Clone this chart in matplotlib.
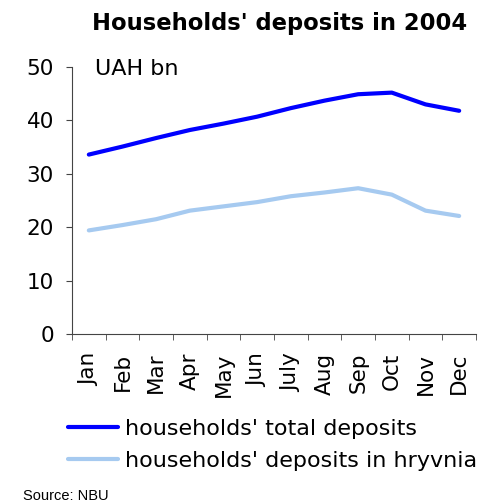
import matplotlib
matplotlib.use("Agg")
import matplotlib.pyplot as plt
from matplotlib.ticker import FixedLocator

months = ["Jan", "Feb", "Mar", "Apr", "May", "Jun", "July", "Aug", "Sep", "Oct", "Nov", "Dec"]
total = [33.6, 35.1, 36.7, 38.2, 39.4, 40.7, 42.3, 43.7, 44.9, 45.2, 43.0, 41.8]
hryvnia = [19.4, 20.4, 21.5, 23.1, 23.9, 24.7, 25.8, 26.5, 27.3, 26.1, 23.1, 22.1]
yticks = [0, 10, 20, 30, 40, 50]

plt.rcParams['font.family'] = ['DejaVu Sans']
W, H = 496, 504
fig = plt.figure(figsize=(W / 100, H / 100), dpi=100)
ax = fig.add_axes([72 / W, 1 - 334 / H, (476 - 72) / W, (334 - 67) / H])
x = list(range(len(months)))
ax.plot(x, total, color="#0000ff", lw=3, label="households' total deposits", solid_capstyle="round")
ax.plot(x, hryvnia, color="#a6caf0", lw=3, label="households' deposits in hryvnia", solid_capstyle="round")
ax.set_xlim(-0.5, len(months) - 0.5)
ax.set_ylim(0, 50)
ax.set_yticks(yticks)
ax.set_xticks(x)
ax.set_xticklabels(months, rotation=90, fontsize=15.5)
ax.tick_params(axis='x', length=0, pad=13.5)
ax.xaxis.set_minor_locator(FixedLocator([i - 0.5 for i in range(len(months) + 1)]))
ax.tick_params(axis='x', which='minor', length=4, direction='out', color='#444444')
ax.tick_params(axis='y', labelsize=15.5, length=4, direction='out', pad=9, color='#444444')
for s in ["top", "right"]:
    ax.spines[s].set_visible(False)
for s in ["left", "bottom"]:
    ax.spines[s].set_color('#444444')
fig.text(95 / W, 1 - 75 / H, "UAH bn", fontsize=16, va="baseline", ha="left")
fig.text(280 / W, 1 - 30 / H, "Households' deposits in 2004", fontsize=16.3, fontweight="bold",
         ha="center", va="baseline")
fig.legend(loc="upper left", bbox_to_anchor=(68 / W, 1 - 419 / H), frameon=False, fontsize=16,
           handlelength=2.25, handletextpad=0.3, labelspacing=0.53, borderaxespad=0, borderpad=0)
fig.text(23 / W, 1 - 500 / H, "Source: NBU", fontsize=10.5, family="Liberation Sans", va="baseline")
fig.savefig("out.png", dpi=100)
